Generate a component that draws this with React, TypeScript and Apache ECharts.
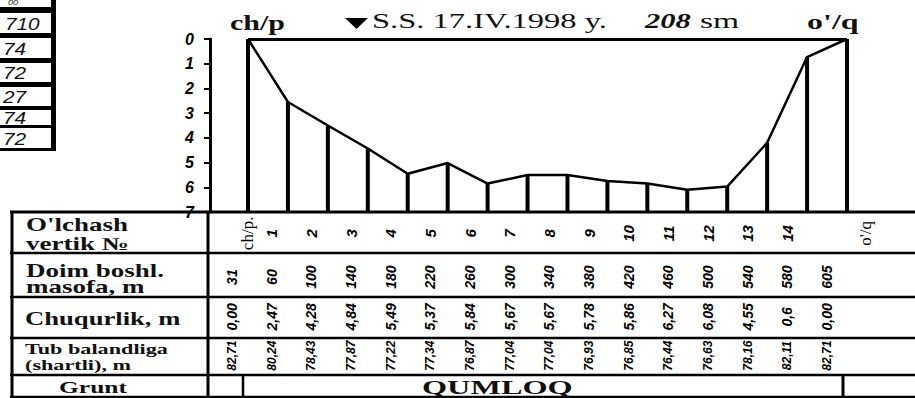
import { useEffect, useRef } from "react";
import * as echarts from "echarts";

// ---- data ----
const verticalNames = ["ch/p", "1", "2", "3", "4", "5", "6", "7", "8", "9", "10", "11", "12", "13", "14", "o'/q"];
// depth of the bed as drawn on the profile (m)
const profileDepth = [0, 2.55, 3.5, 4.43, 5.45, 5.02, 5.85, 5.5, 5.5, 5.75, 5.85, 6.1, 5.97, 4.2, 0.73, 0];
const depthTicks = [0, 1, 2, 3, 4, 5, 6, 7];

const vertikLabels = ["ch/p.", "1", "2", "3", "4", "5", "6", "7", "8", "9", "10", "11", "12", "13", "14", "o'/q"];
const distanceLabels = ["31", "60", "100", "140", "180", "220", "260", "300", "340", "380", "420", "460", "500", "540", "580", "605"];
const depthLabels = ["0,00", "2,47", "4,28", "4,84", "5,49", "5,37", "5,84", "5,67", "5,67", "5,78", "5,86", "6,27", "6,08", "4,55", "0,6", "0,00"];
const bedLabels = ["82,71", "80,24", "78,43", "77,87", "77,22", "77,34", "76,87", "77,04", "77,04", "76,93", "76,85", "76,44", "76,63", "78,16", "82,11", "82,71"];
const tableRowKeys = ["vertik", "masofa", "chuqurlik", "tub"];
const sideCells = ["00", "710", "74", "72", "27", "74", "72"];

const leftTitle = "ch/p";
const rightTitle = "o'/q";
const waterNote = "S.S. 17.IV.1998 y.";
const waterLevel = "208";
const waterUnit = "sm";
const groundName = "QUMLOQ";

export default function App() {
  const ref = useRef<HTMLDivElement>(null);

  useEffect(() => {
    const chart = echarts.init(ref.current!, null, { renderer: "svg" });
    const serif = "'Liberation Serif', 'Times New Roman', serif";
    const hand = "'Liberation Sans', 'DejaVu Sans', sans-serif";
    const ink = "#111";

    const txt = (text: string, x: number, y: number, size: number, o: any = {}) => ({
      type: "text",
      x,
      y,
      scaleX: o.sx ?? 1,
      z: 10,
      style: {
        text,
        fontSize: size,
        fontFamily: o.family ?? serif,
        fontWeight: o.weight ?? "bold",
        fontStyle: o.style ?? "normal",
        fill: o.fill ?? ink,
        textAlign: o.align ?? "left",
        align: o.align ?? "left",
        textVerticalAlign: "middle",
        verticalAlign: "middle",
      },
    });
    const hline = (y: number, x1: number, x2: number, w = 2.5) => ({
      type: "line",
      z: 5,
      shape: { x1, y1: y, x2, y2: y },
      style: { stroke: "#000", lineWidth: w },
    });
    const vline = (x: number, y1: number, y2: number, w = 3) => ({
      type: "line",
      z: 5,
      shape: { x1: x, y1, x2: x, y2 },
      style: { stroke: "#000", lineWidth: w },
    });

    // side remnant table (top-left)
    const sideBoxes = [
      [-12, 7],
      [13, 33],
      [38, 58],
      [63, 82],
      [87, 106],
      [110, 125],
      [128, 148],
    ];
    const sideGraphics: any[] = [
      { type: "rect", z: 1, shape: { x: 0, y: 0, width: 56, height: 151 }, style: { fill: "#000" } },
    ];
    sideBoxes.forEach(([a, b], i) => {
      sideGraphics.push({ type: "rect", z: 2, shape: { x: -5, y: a, width: 56, height: b - a }, style: { fill: "#fff" } });
      if (i === 0) {
        sideGraphics.push(txt(sideCells[i], 8, 3, 7, { family: hand, weight: "normal", style: "italic", sx: 1.3 }));
      } else {
        sideGraphics.push(
          txt(sideCells[i], i === 1 ? 5 : 3, (a + b) / 2 + 1, 16, { family: hand, weight: "normal", style: "italic", sx: 1.3 })
        );
      }
    });

    // table cells (text) via custom series on table grid
    const rowsText = [vertikLabels, distanceLabels, depthLabels, bedLabels];
    const cells: { col: number; row: number; text: string }[] = [];
    rowsText.forEach((arr, r) => arr.forEach((t, c) => cells.push({ col: c, row: r, text: t })));

    const rowFont = (r: number, c: number) => {
      if (r === 0 && (c === 0 || c === 15)) return { size: 17, family: serif, weight: "normal", style: "normal" };
      if (r === 0) return { size: 15, family: hand, weight: "bold", style: "italic" };
      if (r === 1) return { size: 14, family: hand, weight: "bold", style: "italic" };
      if (r === 2) return { size: 14, family: hand, weight: "bold", style: "italic" };
      return { size: 12, family: hand, weight: "bold", style: "italic" };
    };

    const option: any = {
      animation: false,
      backgroundColor: "#fff",
      grid: [
        { left: 248, top: 39, width: 599, height: 173 },
        { left: 232, top: 212, width: 595, height: 163 },
      ],
      xAxis: [
        { gridIndex: 0, type: "category", data: verticalNames, boundaryGap: false, show: false },
        { gridIndex: 1, type: "category", data: verticalNames, boundaryGap: false, show: false },
      ],
      yAxis: [
        {
          gridIndex: 0,
          type: "value",
          inverse: true,
          min: depthTicks[0],
          max: depthTicks[depthTicks.length - 1],
          interval: 1,
          offset: 38,
          axisLine: { show: true, lineStyle: { color: "#000", width: 3 } },
          axisTick: { show: true, inside: false, length: 6, lineStyle: { color: "#000", width: 2 } },
          axisLabel: {
            color: "#000",
            fontSize: 16,
            fontStyle: "italic",
            fontWeight: "bold",
            fontFamily: hand,
            margin: 16,
          },
          splitLine: { show: false },
        },
        { gridIndex: 1, type: "category", data: tableRowKeys, inverse: true, show: false },
      ],
      series: [
        {
          type: "custom",
          name: "verticals",
          xAxisIndex: 0,
          yAxisIndex: 0,
          clip: false,
          z: 2,
          data: profileDepth.map((d, i) => [i, d]),
          encode: { x: 0, y: 1 },
          renderItem: (params: any, api: any) => {
            const i = api.value(0);
            const p1 = api.coord([i, api.value(1)]);
            const p2 = api.coord([i, depthTicks[depthTicks.length - 1]]);
            return {
              type: "line",
              shape: { x1: p1[0], y1: p1[1], x2: p2[0], y2: p2[1] },
              style: { stroke: "#000", lineWidth: 4 },
            };
          },
        },
        {
          type: "line",
          name: "profile",
          xAxisIndex: 0,
          yAxisIndex: 0,
          z: 3,
          data: profileDepth,
          symbol: "none",
          lineStyle: { color: "#000", width: 2.5 },
          markLine: {
            silent: true,
            symbol: "none",
            label: { show: false },
            lineStyle: { color: "#000", width: 3, type: "solid" },
            data: [{ yAxis: 0 }],
          },
        },
        {
          type: "custom",
          name: "table",
          xAxisIndex: 1,
          yAxisIndex: 1,
          clip: false,
          z: 4,
          data: cells.map((c) => [c.col, c.row]),
          encode: { x: 0, y: 1 },
          renderItem: (params: any, api: any) => {
            const cell = cells[params.dataIndex];
            const p = api.coord([cell.col, cell.row]);
            let dx = 0;
            if (cell.row === 0 && cell.col === 0) dx = 15;
            if (cell.row === 0 && cell.col === 15) dx = 38;
            const f = rowFont(cell.row, cell.col);
            return {
              type: "text",
              x: p[0] + dx,
              y: p[1] + (cell.row === 1 ? 4 : cell.row === 2 ? 3 : 1),
              rotation: Math.PI / 2,
              style: {
                text: cell.text,
                fontSize: f.size,
                fontFamily: f.family,
                fontWeight: f.weight,
                fontStyle: f.style,
                fill: "#000",
                textAlign: "center",
                align: "center",
                textVerticalAlign: "middle",
                verticalAlign: "middle",
              },
            };
          },
        },
      ],
      graphic: [
        ...sideGraphics,
        // header above profile
        txt(leftTitle, 230, 23, 20, { sx: 1.5 }),
        { type: "polygon", z: 10, shape: { points: [[345, 18], [368, 18], [356.5, 29]] }, style: { fill: "#000" } },
        txt(waterNote, 372, 21, 21, { weight: "normal", sx: 1.55 }),
        txt(waterLevel, 645, 21, 21, { style: "italic", sx: 1.45 }),
        txt(waterUnit, 700, 21, 21, { weight: "normal", sx: 1.6 }),
        txt(rightTitle, 807, 22, 20, { sx: 1.6 }),
        // table lines
        hline(212, 10, 915, 3),
        hline(253, 10, 915),
        hline(297, 10, 915),
        hline(338, 10, 915),
        hline(375, 10, 915),
        hline(397, 10, 915),
        vline(12, 211, 398, 3),
        vline(208, 211, 398, 3),
        vline(243, 375, 398, 2.5),
        vline(843, 375, 398, 3),
        // row headers
        txt("O'lchash", 26, 225, 18, { sx: 1.5 }),
        txt("vertik №", 26, 244, 18, { sx: 1.5 }),
        txt("Doim boshl.", 26, 271, 18, { sx: 1.5 }),
        txt("masofa, m", 26, 287, 18, { sx: 1.5 }),
        txt("Chuqurlik, m", 25, 319, 18, { sx: 1.48 }),
        txt("Tub balandliga", 25, 349, 15, { sx: 1.48 }),
        txt("(shartli), m", 25, 365, 15, { sx: 1.48 }),
        txt("Grunt", 93, 388, 17, { sx: 1.5, align: "center" }),
        txt(groundName, 422, 388, 19, { sx: 1.7 }),
      ],
    };

    chart.setOption(option);
    return () => chart.dispose();
  }, []);

  return (
    <div
      ref={ref}
      style={{ position: "fixed", left: 0, top: 0, width: 915, height: 398, background: "#fff" }}
    />
  );
}
